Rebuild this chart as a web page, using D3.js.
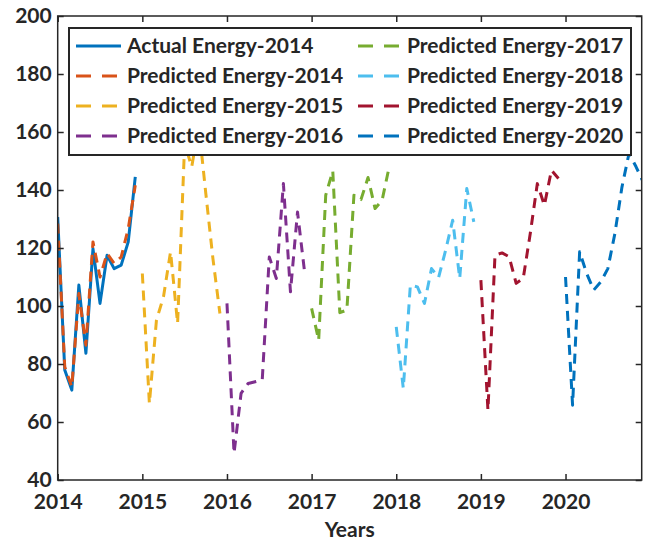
<!DOCTYPE html>
<html>
<head>
<meta charset="utf-8">
<script src="https://cdn.jsdelivr.net/npm/d3@7"></script>
<style>
  html, body { margin: 0; padding: 0; background: #fff; }
  svg { display: block; }
  text { font-family: Lato, "Open Sans", sans-serif; font-weight: 700; fill: #262626; }
</style>
</head>
<body>
<svg id="chart" width="650" height="542"></svg>
<script>
// ---- data (monthly values, Jan..Dec) ----
const months = ["Jan","Feb","Mar","Apr","May","Jun","Jul","Aug","Sep","Oct","Nov","Dec"];
const yearTicks = [2014, 2015, 2016, 2017, 2018, 2019, 2020];
const yTicks = [40, 60, 80, 100, 120, 140, 160, 180, 200];

const actual2014    = [130.7, 77.9, 71.0, 107.2, 83.7, 119.8, 100.9, 117.5, 112.9, 114.1, 122.1, 144.5];
const predicted2014 = [128.4, 79.0, 72.1, 104.3, 86.5, 122.1, 110.0, 118.1, 114.7, 116.9, 126.7, 141.6];
const predicted2015 = [111.2, 66.4, 95.1, 103.2, 118.7, 94.0, 156.0, 148.0, 162.0, 138.8, 116.5, 97.4];
const predicted2016 = [100.9, 49.2, 69.9, 73.3, 73.9, 74.5, 116.9, 109.5, 142.2, 104.9, 132.4, 111.8];
const predicted2017 = [99.2, 88.2, 138.2, 146.6, 97.7, 98.6, 138.2, 136.7, 144.3, 133.6, 136.5, 148.0];
const predicted2018 = [92.8, 71.6, 107.2, 106.6, 100.9, 112.9, 109.8, 119.2, 129.6, 109.5, 140.5, 129.0];
const predicted2019 = [108.9, 64.1, 117.5, 118.3, 117.0, 107.8, 109.5, 125.0, 142.2, 134.7, 146.8, 144.0];
const predicted2020 = [110.0, 65.8, 118.7, 111.2, 105.5, 108.3, 112.9, 125.0, 141.0, 152.6, 148.0, 142.8];

const seriesNames = ["Actual Energy-2014","Predicted Energy-2014","Predicted Energy-2015","Predicted Energy-2016",
                     "Predicted Energy-2017","Predicted Energy-2018","Predicted Energy-2019","Predicted Energy-2020"];
const seriesYears = [2014, 2014, 2015, 2016, 2017, 2018, 2019, 2020];
const seriesValues = [actual2014, predicted2014, predicted2015, predicted2016,
                      predicted2017, predicted2018, predicted2019, predicted2020];
const colors = ["#0072BD","#D95319","#EDB120","#7E2F8E","#77AC30","#4DBEEE","#A2142F","#0072BD"];

// ---- layout ----
const svg = d3.select("#chart");
const L = 57.7, R = 641.7, T = 16, B = 480;
const x = d3.scaleLinear().domain([2014, 2014 + 82.8/12]).range([L, R]);
const y = d3.scaleLinear().domain([40, 200]).range([B, T]);
const axisColor = "#262626";

svg.append("defs").append("clipPath").attr("id","clip")
  .append("rect").attr("x", L).attr("y", T).attr("width", R - L).attr("height", B - T);

// series lines
const line = d3.line().x(d => x(d.t)).y(d => y(d.v));
const plot = svg.append("g").attr("clip-path","url(#clip)");
seriesValues.forEach((vals, i) => {
  const pts = vals.map((v, m) => ({ t: seriesYears[i] + m / 12, v }));
  plot.append("path")
    .datum(pts)
    .attr("d", line)
    .attr("fill","none")
    .attr("stroke", colors[i])
    .attr("stroke-width", 3)
    .attr("stroke-linejoin","round")
    .attr("stroke-dasharray", i === 0 ? null : "10,7");
});

// axes (ticks inward, mirrored on top/right)
const tickLen = 6;
const fmt = d3.format("d");
const gx = svg.append("g").attr("transform", `translate(0,${B})`)
  .call(d3.axisBottom(x).tickValues(yearTicks).tickFormat(fmt).tickSizeInner(-tickLen).tickSizeOuter(0).tickPadding(14));
const gxt = svg.append("g").attr("transform", `translate(0,${T})`)
  .call(d3.axisTop(x).tickValues(yearTicks).tickFormat("").tickSizeInner(-tickLen).tickSizeOuter(0));
const gy = svg.append("g").attr("transform", `translate(${L},0)`)
  .call(d3.axisLeft(y).tickValues(yTicks).tickFormat(fmt).tickSizeInner(-tickLen).tickSizeOuter(0).tickPadding(6));
const gyr = svg.append("g").attr("transform", `translate(${R},0)`)
  .call(d3.axisRight(y).tickValues(yTicks).tickFormat("").tickSizeInner(-tickLen).tickSizeOuter(0));

[gx, gxt, gy, gyr].forEach(g => {
  g.select(".domain").remove();
  g.selectAll(".tick line").attr("stroke", axisColor).attr("stroke-width", 1.5);
  g.selectAll("text").attr("font-size", 21).attr("fill", axisColor)
   .style("font-family", "Lato, 'Open Sans', sans-serif").style("font-weight", 700);
});
gx.selectAll(".tick text").attr("dy", "0.71em");

// box
svg.append("rect").attr("x", L).attr("y", T).attr("width", R - L).attr("height", B - T)
  .attr("fill","none").attr("stroke", axisColor).attr("stroke-width", 1.5);

// x label
svg.append("text").attr("x", (L + R) / 2).attr("y", 537).attr("text-anchor","middle")
  .attr("font-size", 21).text("Years");

// legend
const lg = svg.append("g");
lg.append("rect").attr("x", 69).attr("y", 28).attr("width", 562).attr("height", 127)
  .attr("fill","#fff").attr("stroke", axisColor).attr("stroke-width", 2);
seriesNames.forEach((name, i) => {
  const col = i < 4 ? 0 : 1;
  const row = i % 4;
  const cy = 46 + row * 30;
  const tx = col === 0 ? 127 : 407;
  const sx = col === 0 ? 76 : 358;
  lg.append("line").attr("x1", sx).attr("x2", sx + 45).attr("y1", cy).attr("y2", cy)
    .attr("stroke", colors[i]).attr("stroke-width", 3)
    .attr("stroke-dasharray", i === 0 ? null : "15,11");
  lg.append("text").attr("x", tx).attr("y", cy).attr("dy","0.35em")
    .attr("font-size", 21).text(name);
});
</script>
</body>
</html>
